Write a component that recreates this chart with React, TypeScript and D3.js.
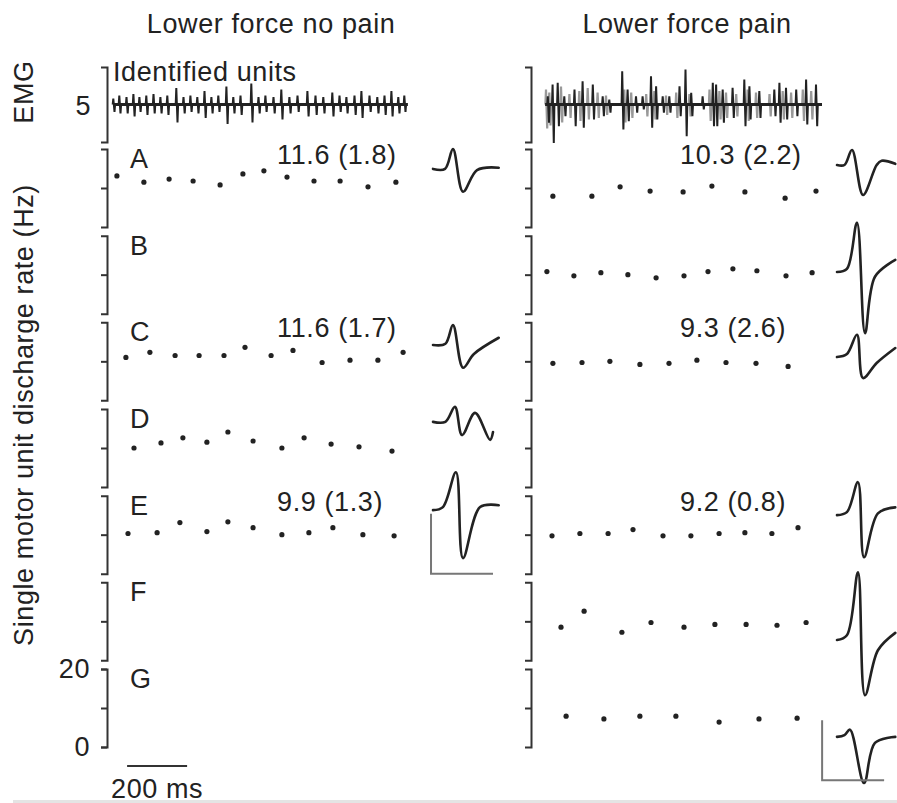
import React, { useEffect, useRef } from 'react';
import * as d3 from 'd3';

const units = ['A', 'B', 'C', 'D', 'E', 'F', 'G'];
const conditions = ['Lower force no pain', 'Lower force pain'];

// discharge times (ms) and instantaneous rates (Hz) - no pain
const noPainA_t = [23, 113, 197, 277, 367, 443, 513, 590, 680, 767, 860, 953];
const noPainA_hz = [13.1, 11.5, 12.3, 11.8, 10.8, 13.6, 14.4, 12.8, 11.8, 11.8, 10.3, 11.5];
const noPainC_t = [53, 133, 217, 297, 380, 450, 537, 610, 707, 800, 893, 977];
const noPainC_hz = [11.0, 12.3, 11.5, 11.5, 11.5, 13.6, 11.5, 12.8, 9.7, 10.3, 10.3, 12.3];
const noPainD_t = [80, 170, 243, 323, 393, 477, 573, 647, 737, 830, 940];
const noPainD_hz = [10.0, 11.3, 12.6, 11.5, 14.1, 11.8, 10.0, 12.6, 11.0, 10.3, 9.2];
const noPainE_t = [60, 157, 233, 323, 393, 477, 573, 663, 743, 843, 947];
const noPainE_hz = [10.3, 10.5, 13.1, 10.8, 13.3, 11.8, 10.0, 10.5, 11.8, 10.0, 9.7];

// pain
const painA_t = [63, 193, 287, 387, 497, 593, 703, 837, 940];
const painA_hz = [7.9, 7.9, 10.3, 9.2, 9.0, 10.5, 9.0, 7.4, 9.2];
const painB_t = [43, 133, 223, 313, 407, 500, 580, 663, 743, 840, 927];
const painB_hz = [10.8, 9.7, 10.5, 10.0, 9.2, 9.7, 10.8, 11.5, 11.0, 9.7, 10.5];
const painC_t = [63, 160, 253, 353, 450, 543, 640, 740, 847];
const painC_hz = [9.5, 9.7, 10.0, 9.2, 9.5, 10.3, 9.7, 9.5, 8.7];
const painE_t = [60, 153, 247, 330, 430, 523, 617, 703, 793, 880];
const painE_hz = [9.7, 10.3, 10.3, 11.3, 9.7, 9.7, 10.3, 10.5, 10.3, 11.8];
const painF_t = [90, 167, 293, 390, 500, 603, 707, 810, 907];
const painF_hz = [8.5, 12.6, 7.2, 9.7, 8.5, 9.2, 9.2, 9.0, 9.7];
const painG_t = [107, 233, 353, 473, 617, 750, 877];
const painG_hz = [7.9, 7.2, 7.9, 7.9, 6.4, 7.2, 7.4];

// mean (SD) rate labels
const noPainLabels = { A: '11.6 (1.8)', C: '11.6 (1.7)', E: '9.9 (1.3)' };
const painLabels = { A: '10.3 (2.2)', C: '9.3 (2.6)', E: '9.2 (0.8)' };

// surface EMG spikes: time (ms), upward and downward deflection
const emgNoPain_t = [13, 33, 57, 80, 100, 123, 147, 170, 193, 223, 247, 270, 293, 317, 340, 363, 390, 413, 437, 473, 497, 520, 547, 573, 600, 627, 660, 687, 713, 743, 767, 790, 817, 840, 867, 893, 917, 940, 963, 983];
const emgNoPain_up = [0.4, 0.6, 0.5, 0.7, 0.5, 0.6, 0.7, 0.5, 0.6, 1.1, 0.5, 0.6, 0.5, 0.9, 0.5, 0.6, 1.2, 0.5, 0.6, 1.4, 0.5, 0.6, 0.5, 1.0, 0.5, 0.6, 0.9, 0.6, 0.5, 0.8, 0.6, 0.5, 0.6, 0.9, 0.6, 0.5, 0.6, 0.9, 0.5, 0.6];
const emgNoPain_down = [0.5, 0.6, 0.6, 0.8, 0.5, 0.7, 0.6, 0.6, 0.7, 1.2, 0.6, 0.5, 0.6, 0.9, 0.6, 0.5, 1.3, 0.6, 0.7, 1.2, 0.6, 0.5, 0.6, 1.0, 0.6, 0.5, 0.8, 0.7, 0.6, 0.8, 0.5, 0.6, 0.7, 0.9, 0.5, 0.6, 0.7, 0.8, 0.6, 0.5];
const emgPain_t = [48, 64, 81, 103, 137, 164, 198, 231, 253, 296, 314, 342, 364, 392, 409, 431, 453, 487, 507, 526, 564, 598, 609, 631, 664, 703, 720, 753, 803, 820, 842, 876, 909, 942];
const emgPain_up = [0.55, 1.33, 1.44, 0.55, 1.0, 1.55, 1.33, 0.55, 0.33, 2.22, 1.0, 0.55, 0.55, 1.89, 1.22, 0.55, 0.55, 1.22, 2.33, 0.78, 0.55, 1.44, 1.33, 1.0, 1.11, 1.67, 1.22, 0.89, 1.0, 1.44, 1.11, 1.0, 1.67, 1.33];
const emgPain_down = [1.22, 2.56, 1.44, 0.78, 1.44, 1.55, 1.0, 0.78, 0.55, 1.67, 1.11, 0.55, 0.33, 1.55, 1.0, 0.55, 0.55, 0.78, 2.11, 0.78, 0.33, 1.44, 1.44, 1.22, 0.89, 1.44, 1.0, 0.89, 0.78, 1.22, 1.0, 0.78, 1.33, 1.44];
// fainter (grey) activity in the pain EMG
const emgPainFaint_t = [42, 53, 92, 120, 153, 181, 214, 242, 303, 326, 376, 403, 442, 476, 520, 587, 620, 642, 676, 714, 742, 787, 831, 859, 898, 926];
const emgPainFaint_up = [1.0, 0.8, 1.2, 0.7, 0.9, 1.1, 0.8, 0.6, 1.0, 0.8, 0.7, 0.9, 0.6, 0.8, 0.7, 1.0, 0.9, 0.8, 0.7, 1.0, 0.8, 0.7, 0.9, 0.8, 1.0, 0.9];
const emgPainFaint_down = [1.6, 1.4, 1.2, 0.9, 1.1, 1.0, 0.9, 0.7, 1.2, 0.9, 0.8, 1.0, 0.7, 0.9, 0.8, 1.1, 1.0, 0.9, 0.8, 1.1, 0.9, 0.8, 1.0, 0.9, 1.1, 1.0];

// motor unit action potential templates: time (ms), amplitude (scale-bar units)
const wfNoPainA_t = [0, 0.97, 1.61, 2.42, 3.55, 5.3];
const wfNoPainA_v = [0, 0, 0.33, -0.38, -0.02, 0.02];
const wfNoPainC_t = [0, 1.0, 1.61, 2.42, 3.3, 5.3];
const wfNoPainC_v = [0, 0.02, 0.33, -0.38, -0.15, 0.12];
const wfNoPainD_t = [0, 1.0, 1.77, 2.34, 3.39, 4.6, 4.84];
const wfNoPainD_v = [0, 0, 0.25, -0.22, 0.15, -0.3, -0.17];
const wfNoPainE_t = [0, 0.8, 1.85, 2.42, 3.8, 5.3];
const wfNoPainE_v = [0, 0.05, 0.63, -0.8, 0.05, 0.08];
const wfPainA_t = [0, 0.6, 1.21, 2.1, 3.2, 3.6, 4.7];
const wfPainA_v = [0, 0, 0.25, -0.5, 0, 0.07, 0.02];
const wfPainB_t = [0, 0.8, 1.61, 2.26, 3.06, 4.7];
const wfPainB_v = [0, 0.05, 0.82, -1.02, -0.08, 0.2];
const wfPainC_t = [0, 0.8, 1.61, 2.1, 3.2, 4.7];
const wfPainC_v = [0, 0.05, 0.37, -0.35, -0.1, 0.15];
const wfPainE_t = [0, 0.8, 1.69, 2.18, 3.3, 4.7];
const wfPainE_v = [0, 0.05, 0.55, -0.7, 0.03, 0.13];
const wfPainF_t = [0, 0.8, 1.69, 2.26, 3.3, 4.7];
const wfPainF_v = [0, 0.08, 1.13, -0.92, -0.17, 0.12];
const wfPainG_t = [0, 0.6, 1.05, 2.18, 3.06, 4.7];
const wfPainG_v = [0, 0.03, 0.12, -0.77, -0.1, 0];

const FONT = '"Liberation Sans", Arial, Helvetica, sans-serif';
const FS = 27;
const LS = 0.6;
const INK = '#222';

const zip = (t, v) => t.map((d, i) => ({ t: d, v: v[i] }));

const App = () => {
    const ref = useRef(null);

    useEffect(() => {
        const svg = d3.select(ref.current);
        svg.selectAll('*').remove();

        const rowBand = d3.scaleBand().domain(units).range([149, 747]).paddingInner(0.1).paddingOuter(0);
        const rowY = u => d3.scaleLinear().domain([0, 20]).range([rowBand(u) + rowBand.bandwidth(), rowBand(u)]);
        const emgY = d3.scaleLinear().domain([-2.5, 2.5]).range([142, 67]);

        const panels = [
            {
                title: conditions[0], axisX: 107, x: d3.scaleLinear().domain([0, 1000]).range([110, 410]),
                wfX: d3.scaleLinear().domain([0, 5]).range([433, 495]),
                dots: { A: zip(noPainA_t, noPainA_hz), C: zip(noPainC_t, noPainC_hz), D: zip(noPainD_t, noPainD_hz), E: zip(noPainE_t, noPainE_hz) },
                waves: { A: [zip(wfNoPainA_t, wfNoPainA_v), 14.9], C: [zip(wfNoPainC_t, wfNoPainC_v), 14.2], D: [zip(wfNoPainD_t, wfNoPainD_v), 16.7], E: [zip(wfNoPainE_t, wfNoPainE_v), 16.3] },
                labels: noPainLabels, labelT: 557, titleT: 537,
                emg: { t: emgNoPain_t, up: emgNoPain_up, down: emgNoPain_down, from: 10, to: 993 },
                faint: null,
                bar: { unit: 'E', hz: 0, t: -0.16 },
            },
            {
                title: conditions[1], axisX: 531, x: d3.scaleLinear().domain([0, 1000]).range([534, 834]),
                wfX: d3.scaleLinear().domain([0, 5]).range([837, 899]),
                dots: { A: zip(painA_t, painA_hz), B: zip(painB_t, painB_hz), C: zip(painC_t, painC_hz), E: zip(painE_t, painE_hz), F: zip(painF_t, painF_hz), G: zip(painG_t, painG_hz) },
                waves: { A: [zip(wfPainA_t, wfPainA_v), 15.9], B: [zip(wfPainB_t, wfPainB_v), 10.7], C: [zip(wfPainC_t, wfPainC_v), 11.1], E: [zip(wfPainE_t, wfPainE_v), 15.0], F: [zip(wfPainF_t, wfPainF_v), 5.2], G: [zip(wfPainG_t, wfPainG_v), 2.6] },
                labels: painLabels, labelT: 487, titleT: 510,
                emg: { t: emgPain_t, up: emgPain_up, down: emgPain_down, from: 37, to: 960 },
                faint: { t: emgPainFaint_t, up: emgPainFaint_up, down: emgPainFaint_down },
                bar: { unit: 'G', hz: -8.5, t: -1.2 },
            },
        ];

        const text = (x, y, s, anchor = 'start') =>
            svg.append('text').attr('x', x).attr('y', y).attr('text-anchor', anchor)
                .attr('font-family', FONT).attr('font-size', FS).attr('letter-spacing', LS)
                .attr('fill', INK).text(s);

        panels.forEach((p, pi) => {
            // title
            text(p.x(p.titleT), 33, p.title, 'middle');

            // EMG bracket and trace
            const emgAxis = svg.append('g')
                .attr('transform', `translate(${p.axisX},0)`)
                .call(d3.axisLeft(emgY).tickValues([]).tickSizeOuter(6));
            emgAxis.select('.domain').attr('stroke', '#333').attr('stroke-width', 2);

            const spike = d3.line().x(d => p.x(d[0])).y(d => emgY(d[1]));
            const drawSpikes = (s, color, width) => s.t.forEach((t, i) => {
                svg.append('path')
                    .attr('d', spike([[t - 4, 0], [t - 2, s.up[i]], [t + 2, -s.down[i]], [t + 4, 0]]))
                    .attr('fill', 'none').attr('stroke', color).attr('stroke-width', width);
            });
            if (p.faint) drawSpikes(p.faint, '#999', 2.2);

            svg.append('line')
                .attr('x1', p.x(p.emg.from)).attr('x2', p.x(p.emg.to))
                .attr('y1', emgY(0)).attr('y2', emgY(0))
                .attr('stroke', INK).attr('stroke-width', 3);
            drawSpikes(p.emg, INK, 2);

            units.forEach(u => {
                const y = rowY(u);
                const showLabels = pi === 0 && u === 'G';
                const ax = svg.append('g')
                    .attr('transform', `translate(${p.axisX},0)`)
                    .call(d3.axisLeft(y)
                        .tickValues(showLabels ? [0, 10, 20] : [10])
                        .tickSize(6).tickSizeOuter(6).tickPadding(11)
                        .tickFormat(d => (showLabels && d !== 10 ? d : '')));
                ax.attr('font-family', FONT).attr('font-size', FS);
                ax.select('.domain').attr('stroke', '#333').attr('stroke-width', 2);
                ax.selectAll('.tick line').attr('stroke', '#333').attr('stroke-width', 2);
                ax.selectAll('.tick text').attr('fill', INK).attr('letter-spacing', LS);

                if (pi === 0) text(130, rowBand(u) + 19, u);

                const dots = p.dots[u];
                if (dots) {
                    svg.append('g').selectAll('circle').data(dots).join('circle')
                        .attr('cx', d => p.x(d.t)).attr('cy', d => y(d.v))
                        .attr('r', 2.6).attr('fill', INK);
                }
                if (p.labels[u]) text(p.x(p.labelT), rowBand(u) + 15, p.labels[u]);

                const w = p.waves[u];
                if (w) {
                    const base = y(w[1]);
                    const amp = d3.scaleLinear().domain([0, 1]).range([base, base - 60]);
                    const line = d3.line().x(d => p.wfX(d.t)).y(d => amp(d.v)).curve(d3.curveCatmullRom.alpha(0.5));
                    svg.append('path').attr('d', line(w[0]))
                        .attr('fill', 'none').attr('stroke', INK).attr('stroke-width', 2.6)
                        .attr('stroke-linejoin', 'round').attr('stroke-linecap', 'round');
                }
            });

            // waveform scale bar
            const by = rowY(p.bar.unit)(p.bar.hz);
            const bx0 = p.wfX(p.bar.t), bx1 = p.wfX(p.bar.t + 5);
            svg.append('path')
                .attr('d', `M${bx0},${by - 60}V${by}H${bx1}`)
                .attr('fill', 'none').attr('stroke', '#777').attr('stroke-width', 2);
        });

        // left-hand labels
        text(113, 81, 'Identified units');
        text(91, emgY(0) + 10, '5', 'end');
        svg.append('text').attr('transform', 'translate(33,92) rotate(-90)')
            .attr('text-anchor', 'middle').attr('font-family', FONT).attr('font-size', FS)
            .attr('letter-spacing', LS).attr('fill', INK)
            .text('EMG');
        svg.append('text').attr('transform', 'translate(33,415) rotate(-90)')
            .attr('text-anchor', 'middle').attr('font-family', FONT).attr('font-size', FS)
            .attr('letter-spacing', LS).attr('fill', INK)
            .text('Single motor unit discharge rate (Hz)');

        // 200 ms time bar
        const xl = panels[0].x;
        svg.append('line')
            .attr('x1', xl(57)).attr('x2', xl(257)).attr('y1', 766).attr('y2', 766)
            .attr('stroke', '#333').attr('stroke-width', 2);
        text(xl(157), 798, '200 ms', 'middle');

        svg.append('rect').attr('x', 13).attr('y', 800).attr('width', 884).attr('height', 3).attr('fill', '#e4e4e4');
    }, []);

    return (
        <svg ref={ref} width={897} height={803}
            style={{ position: 'absolute', left: 0, top: 0, background: '#fff' }} />
    );
};

export default App;
